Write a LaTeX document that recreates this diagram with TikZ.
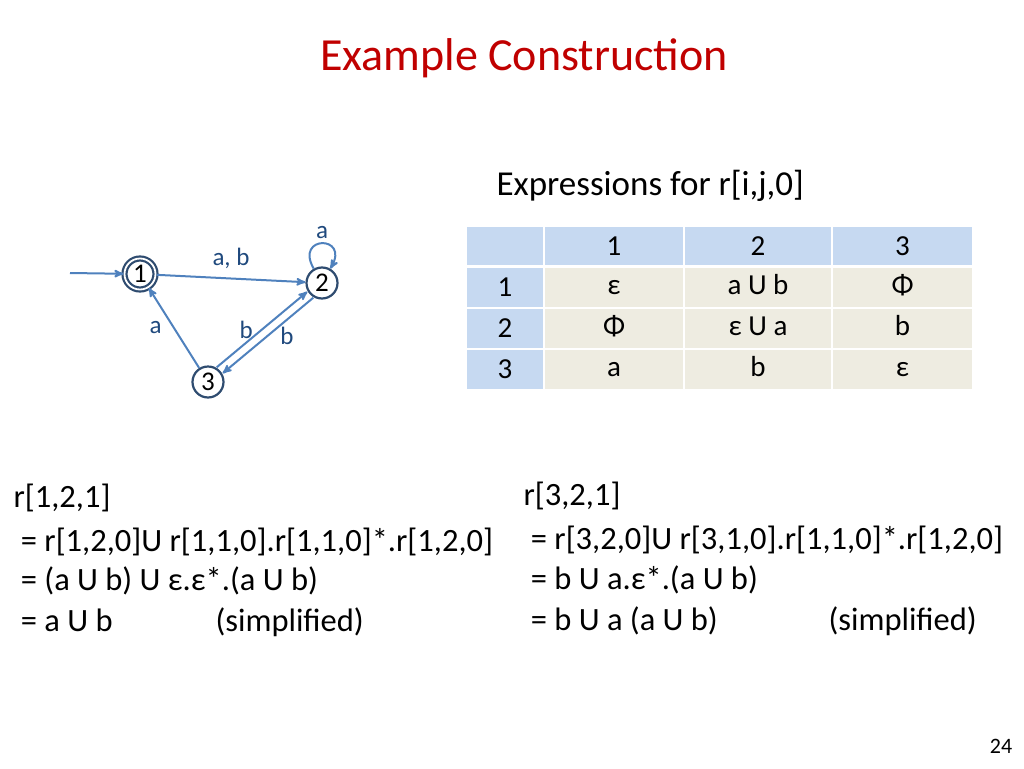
\documentclass[tikz,border=0pt]{standalone}
\usepackage{fontspec}
\setmainfont{Carlito}
\usetikzlibrary{arrows,positioning}
\definecolor{edgeblue}{RGB}{79,129,189}
\definecolor{ringblue}{RGB}{47,76,112}
\definecolor{labelblue}{RGB}{31,73,125}
\definecolor{headfill}{RGB}{198,217,241}
\definecolor{bodyfill}{RGB}{238,236,225}
\definecolor{titlered}{RGB}{192,0,0}
\begin{document}
\begin{tikzpicture}
[x=1pt,y=-1pt,
state/.style={circle,draw=ringblue,fill=white,line width=2.2pt,inner sep=0pt,minimum size=31pt,font=\fontsize{27}{27}\selectfont},
trans/.style={->,>=stealth',draw=edgeblue,line width=2pt},
elabel/.style={text=labelblue,font=\fontsize{25}{25}\selectfont},
head/.style={fill=headfill,draw=white,line width=2.5pt,font=\fontsize{29}{29}\selectfont},
cell/.style={fill=bodyfill,draw=white,line width=2.5pt,font=\fontsize{29}{29}\selectfont},
expr/.style={anchor=base west,font=\fontsize{32.5}{32.5}\selectfont}]

\useasboundingbox (0,0) rectangle (1024,768);

\node[text=titlered,font=\fontsize{46}{46}\selectfont] (title) at (524,58) {Example Construction};

% automaton
\node[state,double,double distance=1.8pt] (q1) at (140,274) {1};
\node[state] (q2) at (322,283) {2};
\node[state] (q3) at (208,382) {3};
\coordinate (start) at (70,273);
\draw[trans] (start) -- (q1);
\draw[trans] (q1) -- node[elabel,above=5pt] {a, b} (q2);
\draw[trans] (q2) to[out=120,in=60,looseness=6] node[elabel,above] {a} (q2);
\draw[trans] ([xshift=-3pt,yshift=3pt]q3.north east) -- node[elabel,left=5pt] {b} ([xshift=-3pt,yshift=3pt]q2.south west);
\draw[trans] ([xshift=3pt,yshift=-3pt]q2.south west) -- node[elabel,right=8pt] {b} ([xshift=3pt,yshift=-3pt]q3.north east);
\draw[trans] (q3) -- node[elabel,left=8pt] {a} (q1);

% table
\node[font=\fontsize{35}{35}\selectfont,anchor=west] (caption) at (493,186) {Expressions for r[i,j,0]};
\foreach \xa/\xb/\c [count=\i] in {466/544/,544/684/1,684/832/2,832/973/3} {
  \node[head,minimum width=\xb-\xa,minimum height=40pt] (h\i) at ({(\xa+\xb)/2},246) {\c};
}
\foreach \ya/\yb/\r/\u/\v/\w in {
  267/308/1/ε/a U b/Φ,
  308/349/2/Φ/ε U a/b,
  349/390/3/a/b/ε} {
  \node[head,minimum width=78pt,minimum height=\yb-\ya] (r\r) at (505,{(\ya+\yb)/2}) {\r};
  \node[cell,minimum width=140pt,minimum height=\yb-\ya,text height=18pt,text depth=4pt] (c\r a) at (614,{(\ya+\yb)/2}) {\u};
  \node[cell,minimum width=148pt,minimum height=\yb-\ya,text height=18pt,text depth=4pt] (c\r b) at (758,{(\ya+\yb)/2}) {\v};
  \node[cell,minimum width=141pt,minimum height=\yb-\ya,text height=18pt,text depth=4pt] (c\r c) at (902.5,{(\ya+\yb)/2}) {\w};
}

% derivations
\node[expr] (l1) at (10,507) {r[1,2,1]};
\node[expr] (l2) at (10,551) {\ = r[1,2,0]U r[1,1,0].r[1,1,0]*.r[1,2,0]};
\node[expr] (l3) at (10,590) {\ = (a U b) U ε.ε*.(a U b)};
\node[expr] (l4) at (10,631) {\ = a U b};
\node[expr] (l5) at (212,631) {(simplified)};
\node[expr] (m1) at (520,505) {r[3,2,1]};
\node[expr] (m2) at (520,549) {\ = r[3,2,0]U r[3,1,0].r[1,1,0]*.r[1,2,0]};
\node[expr] (m3) at (520,589) {\ = b U a.ε*.(a U b)};
\node[expr] (m4) at (520,630) {\ = b U a (a U b)};
\node[expr] (m5) at (825,630) {(simplified)};

\node[font=\fontsize{22}{22}\selectfont] (page) at (1001,746) {24};
\end{tikzpicture}
\end{document}
